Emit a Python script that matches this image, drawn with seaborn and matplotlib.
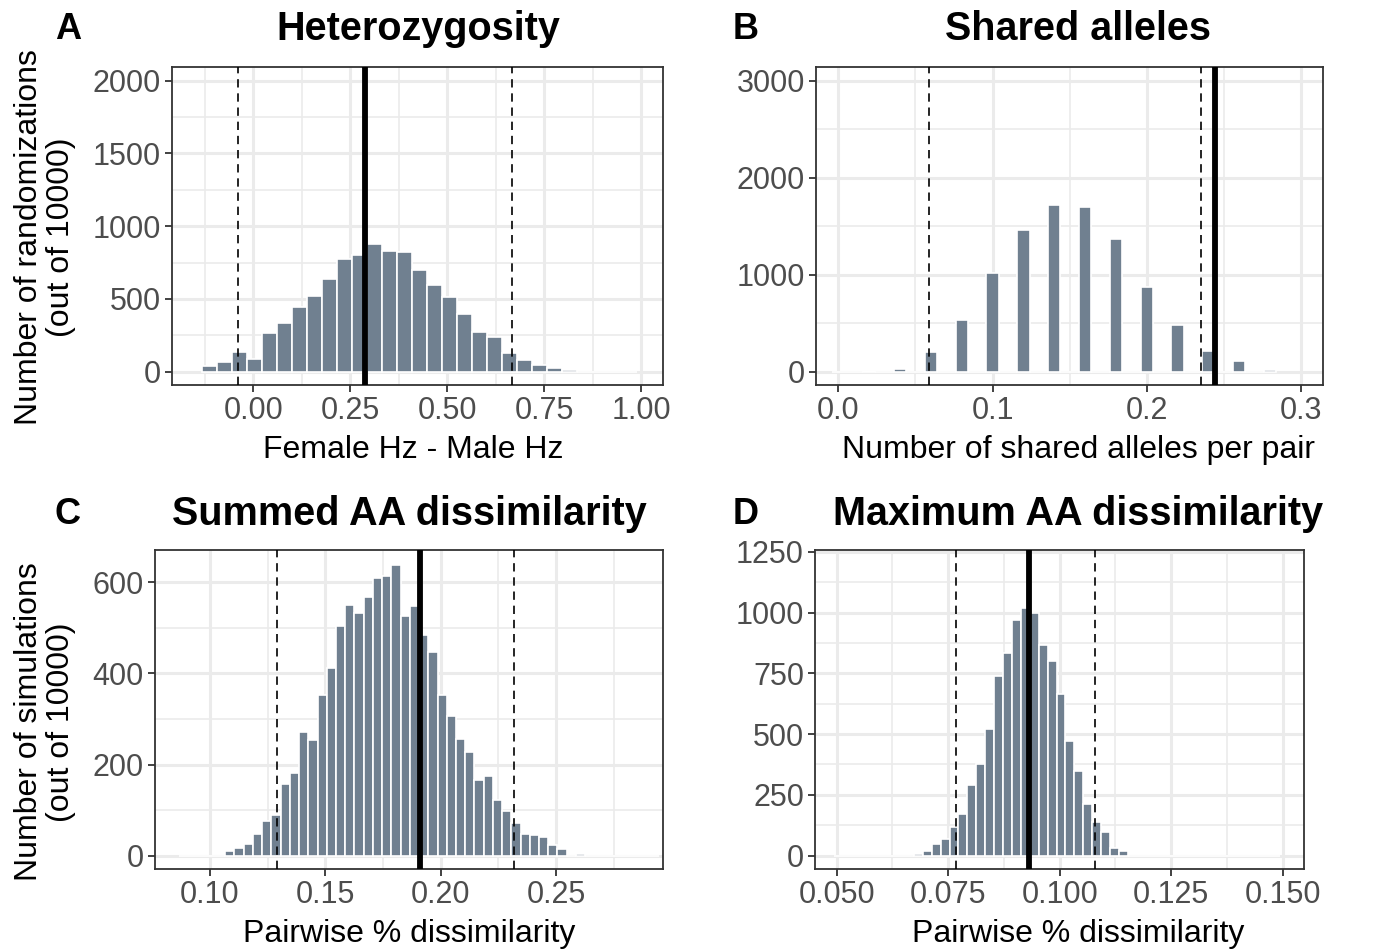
import numpy as np
import pandas as pd
import matplotlib
matplotlib.use("Agg")
import matplotlib.pyplot as plt
import seaborn as sns
from matplotlib.ticker import MultipleLocator, FormatStrFormatter

# panel A - heterozygosity difference (female Hz - male Hz), equal bins
hz_first_edge = -0.133
hz_binwidth = 0.0387
hz_counts = [39, 69, 138, 88, 265, 334, 445, 518, 634, 772, 800, 880, 827,
             823, 698, 597, 514, 394, 274, 240, 131, 78, 44, 28, 14, 0, 0, 0, 0]
hz_observed = 0.288
hz_ci = [-0.040, 0.666]

# panel B - shared alleles per pair (discrete values)
sa_values = [0.00, 0.02, 0.04, 0.06, 0.08, 0.10, 0.12, 0.14, 0.16, 0.18,
             0.20, 0.22, 0.24, 0.26, 0.28]
sa_counts = [0, 3, 24, 199, 529, 1021, 1460, 1718, 1698, 1368, 876, 481, 213, 110, 14]
sa_observed = 0.2445
sa_ci = [0.0588, 0.2354]

# panel C - summed AA dissimilarity
sum_first_edge = 0.0866
sum_binwidth = 0.004
sum_counts = [0, 0, 0, 0, 0,
              10, 16, 25, 47, 76, 89, 157, 182, 272, 253, 352, 411, 505, 550,
              533, 568, 609, 613, 637, 527, 547, 485, 447, 353, 307, 256, 227,
              166, 175, 122, 99, 72, 48, 45, 40, 23, 15,
              0, 3, 0, 0, 0, 0, 0, 0, 0, 0]
sum_observed = 0.1910
sum_ci = [0.1289, 0.2317]

# panel D - maximum AA dissimilarity
max_first_edge = 0.0493
max_binwidth = 0.002
max_counts = [0, 0, 0, 0, 0, 0, 0, 0, 0,
              8, 18, 47, 69, 118, 173, 290, 375, 523, 740, 832, 970, 1019, 997,
              867, 801, 666, 471, 349, 212, 140, 99, 33, 19,
              0, 0, 0, 0, 0, 0, 0, 0, 0, 0, 0, 0, 0, 0, 0, 0, 0]
max_observed = 0.0931
max_ci = [0.0767, 0.1079]

BAR = "#708090"
W, H = 1374, 949

sns.set_theme(style="white")
plt.rcParams["font.family"] = ["Liberation Sans", "DejaVu Sans"]
plt.rcParams["text.color"] = "black"

fig = plt.figure(figsize=(W / 100, H / 100), dpi=100)


def add_ax(left, top, right, bottom):
    return fig.add_axes([left / W, 1 - bottom / H, (right - left) / W, (bottom - top) / H])


def equal_bins(first, width, counts):
    edges = first + width * np.arange(len(counts) + 1)
    centers = (edges[:-1] + edges[1:]) / 2
    return edges, centers


def hist_panel(ax, edges, centers, counts, observed, ci, xlim, ylim,
               xmaj, xmin, ymaj, ymin, xfmt):
    df = pd.DataFrame({"x": centers, "n": counts})
    sns.histplot(data=df, x="x", weights="n", bins=list(edges), ax=ax, color=BAR,
                 edgecolor="white", linewidth=1.2, alpha=1, zorder=2)
    for v in ci:
        ax.axvline(v, color="black", lw=1.2, ls=(0, (5, 3.5)), zorder=3)
    ax.axvline(observed, color="black", lw=4.2, zorder=4)
    ax.set_xlim(*xlim)
    ax.set_ylim(*ylim)
    ax.xaxis.set_major_locator(MultipleLocator(xmaj))
    ax.xaxis.set_minor_locator(MultipleLocator(xmin))
    ax.yaxis.set_major_locator(MultipleLocator(ymaj))
    ax.yaxis.set_minor_locator(MultipleLocator(ymin))
    ax.xaxis.set_major_formatter(FormatStrFormatter(xfmt))
    ax.set_axisbelow(True)
    ax.grid(True, which="major", color="#ebebeb", lw=2.2, zorder=0)
    ax.grid(True, which="minor", color="#ebebeb", lw=1.2, zorder=0)
    ax.tick_params(which="major", length=5, width=1.3, color="#333333",
                   labelsize=22, labelcolor="#4d4d4d", pad=3,
                   bottom=True, left=True)
    ax.tick_params(which="minor", length=0)
    for s in ax.spines.values():
        s.set_color("#333333")
        s.set_linewidth(1.3)
    ax.set_xlabel("")
    ax.set_ylabel("")


# A
axA = add_ax(172, 67, 662.5, 385)
e, c = equal_bins(hz_first_edge, hz_binwidth, hz_counts)
hist_panel(axA, e, c, hz_counts, hz_observed, hz_ci, (-0.2097, 1.0554), (-91, 2094),
           0.25, 0.125, 500, 250, "%.2f")

# B - one narrow bin per discrete value, empty bins between them
axB = add_ax(816, 67, 1323, 385)
half = 0.004
sa_edges = []
for v in sa_values:
    sa_edges += [v - half, v + half]
hist_panel(axB, np.array(sa_edges), np.array(sa_values), sa_counts,
           sa_observed, sa_ci, (-0.01446, 0.3143), (-137, 3141),
           0.1, 0.05, 1000, 500, "%.1f")

# C
axC = add_ax(155, 550, 662.7, 869)
e, c = equal_bins(sum_first_edge, sum_binwidth, sum_counts)
hist_panel(axC, e, c, sum_counts, sum_observed, sum_ci, (0.07616, 0.2962), (-29.2, 670.9),
           0.05, 0.025, 200, 100, "%.2f")

# D
axD = add_ax(815, 550, 1304, 869)
e, c = equal_bins(max_first_edge, max_binwidth, max_counts)
hist_panel(axD, e, c, max_counts, max_observed, max_ci, (0.04513, 0.15478), (-54.7, 1257),
           0.025, 0.0125, 250, 125, "%.3f")


def ftext(x, y, s, **kw):
    fig.text(x / W, 1 - y / H, s, color="black", **kw)


# panel letters and titles
for x, y, s in [(55, 39, "A"), (733, 39, "B"), (55, 524, "C"), (733, 524, "D")]:
    ftext(x, y, s, fontsize=26, fontweight="bold", ha="left", va="baseline")
for x, y, s in [(418, 40, "Heterozygosity"), (1078, 40, "Shared alleles"),
                (409, 525, "Summed AA dissimilarity"), (1078, 525, "Maximum AA dissimilarity")]:
    ftext(x, y, s, fontsize=28.5, fontweight="bold", ha="center", va="baseline")

# axis titles
for x, y, s in [(413, 450, "Female Hz - Male Hz"),
                (1078, 450, "Number of shared alleles per pair"),
                (409, 934, "Pairwise % dissimilarity"),
                (1078, 934, "Pairwise % dissimilarity")]:
    ftext(x, y, s, fontsize=23, ha="center", va="center")
ftext(45, 237, "Number of randomizations\n(out of 10000)", fontsize=23, rotation=90,
      ha="center", va="center", multialignment="center", linespacing=1.05)
ftext(45, 722, "Number of simulations\n(out of 10000)", fontsize=23, rotation=90,
      ha="center", va="center", multialignment="center", linespacing=1.05)

fig.savefig("out.png", dpi=100)
